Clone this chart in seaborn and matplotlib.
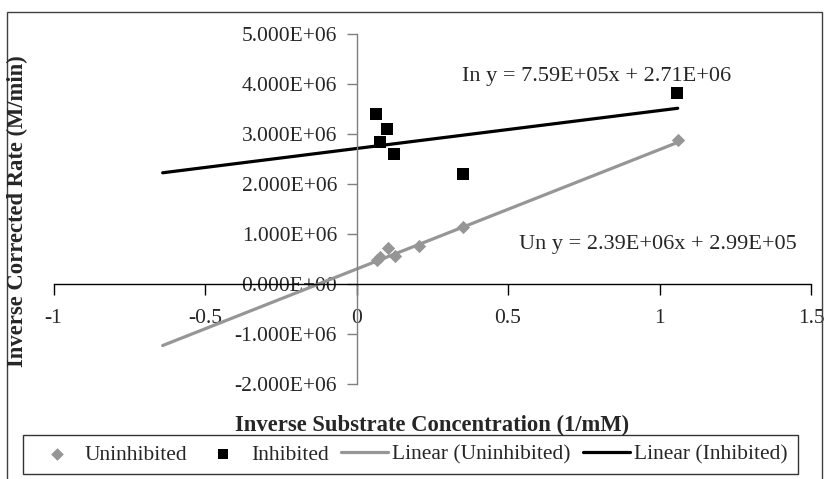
import matplotlib
matplotlib.use("Agg")
import matplotlib.pyplot as plt
from matplotlib.patches import Rectangle
from matplotlib.ticker import FuncFormatter, FixedLocator
import numpy as np
import pandas as pd
import seaborn as sns

# Inverse substrate concentration (1/mM) and inverse corrected rate (M/min)
un_x = [0.067, 0.078, 0.103, 0.126, 0.205, 0.350, 1.060]
un_y = [0.486e6, 0.54e6, 0.73e6, 0.566e6, 0.766e6, 1.14e6, 2.88e6]
in_x = [0.065, 0.077, 0.101, 0.125, 0.350, 1.058]
in_y = [3.40e6, 2.84e6, 3.10e6, 2.61e6, 2.20e6, 3.82e6]

# Linear trendline fits (slope, intercept) and their plotted x range
un_fit = (2.39e6, 2.99e5)
in_fit = (7.59e5, 2.71e6)
fit_x_range = [-0.64, 1.06]

x_ticks = [-1, -0.5, 0, 0.5, 1, 1.5]
y_ticks = [-2e6, -1e6, 0, 1e6, 2e6, 3e6, 4e6, 5e6]

GRAY = "#969696"
W, H, DPI = 828, 479, 100

sns.set_style("white")
plt.rcParams["font.family"] = ["Liberation Serif", "DejaVu Serif"]

fig = plt.figure(figsize=(W / DPI, H / DPI), dpi=DPI)
ax = fig.add_axes([53.6 / W, 1 - 384 / H, (811 - 53.6) / W, (384 - 34) / H])

pts_un = pd.DataFrame({"x": un_x, "y": un_y})
pts_in = pd.DataFrame({"x": in_x, "y": in_y})

xs = np.array(fit_x_range)
line_un = pd.DataFrame({"x": xs, "y": un_fit[0] * xs + un_fit[1]})
line_in = pd.DataFrame({"x": xs, "y": in_fit[0] * xs + in_fit[1]})

sns.lineplot(data=line_un, x="x", y="y", ax=ax, color=GRAY, lw=2.3,
             label="Linear (Uninhibited)", legend=False, zorder=2)
sns.lineplot(data=line_in, x="x", y="y", ax=ax, color="black", lw=2.3,
             label="Linear (Inhibited)", legend=False, zorder=2)
sns.scatterplot(data=pts_un, x="x", y="y", ax=ax, marker="D", s=46, color=GRAY,
                edgecolor=GRAY, linewidth=0, label="Uninhibited", legend=False, zorder=3)
sns.scatterplot(data=pts_in, x="x", y="y", ax=ax, marker="s", s=64, color="black",
                edgecolor="black", linewidth=0, label="Inhibited", legend=False, zorder=3)

ax.set_xlim(x_ticks[0], x_ticks[-1])
ax.set_ylim(y_ticks[0], y_ticks[-1])
ax.xaxis.set_major_locator(FixedLocator(x_ticks))
ax.yaxis.set_major_locator(FixedLocator(y_ticks))
ax.xaxis.set_major_formatter(FuncFormatter(lambda v, p: f"{v:g}"))
ax.yaxis.set_major_formatter(FuncFormatter(lambda v, p: f"{v:.3E}"))

ax.spines["left"].set_position(("data", 0))
ax.spines["bottom"].set_position(("data", 0))
ax.spines["top"].set_visible(False)
ax.spines["right"].set_visible(False)
ax.spines["left"].set_color("#7f7f7f")
ax.spines["bottom"].set_color("black")
ax.spines["left"].set_linewidth(1.0)
ax.spines["bottom"].set_linewidth(1.0)

ax.tick_params(axis="y", direction="out", length=7, width=1.0, color="#7f7f7f",
               pad=7, labelsize=15.5, left=True)
ax.tick_params(axis="x", direction="out", length=8, width=1.0, color="black",
               pad=10, labelsize=15.5, bottom=True)
ax.set_xlabel("")
ax.set_ylabel("")
ax.patch.set_alpha(0)

# Trendline equations
ax.text(597 / W, 1 - 77 / H, "In y = 7.59E+05x + 2.71E+06", transform=fig.transFigure,
        ha="center", va="center", fontsize=16)
ax.text(658 / W, 1 - 245 / H, "Un y = 2.39E+06x + 2.99E+05", transform=fig.transFigure,
        ha="center", va="center", fontsize=16)

# Axis titles
fig.text(432 / W, 1 - 425 / H, "Inverse Substrate Concentration (1/mM)",
         ha="center", va="center", fontsize=16.3, fontweight="bold")
fig.text(17 / W, 1 - 211 / H, "Inverse Corrected Rate (M/min)", rotation=90,
         ha="center", va="center", fontsize=16.3, fontweight="bold")

# Legend along the bottom
handles, labels = ax.get_legend_handles_labels()
order = ["Uninhibited", "Inhibited", "Linear (Uninhibited)", "Linear (Inhibited)"]
hmap = dict(zip(labels, handles))
leg = fig.legend([hmap[k] for k in order], order, loc="center",
                 bbox_to_anchor=(410.5 / W, 1 - 454.5 / H), ncol=4, fontsize=15.5,
                 frameon=True, fancybox=False, shadow=False, borderpad=0.45,
                 handlelength=2.2, handletextpad=0.2, columnspacing=0.55,
                 markerscale=0.95, borderaxespad=0)
leg.get_frame().set_edgecolor("black")
leg.get_frame().set_linewidth(1.0)

# Chart area border
fig.patches.append(Rectangle((7 / W, -0.05), (822 - 7) / W, 1.05 - 12 / H,
                             transform=fig.transFigure, fill=False,
                             edgecolor="#404040", linewidth=1.0))

fig.savefig("out.png", dpi=DPI)
